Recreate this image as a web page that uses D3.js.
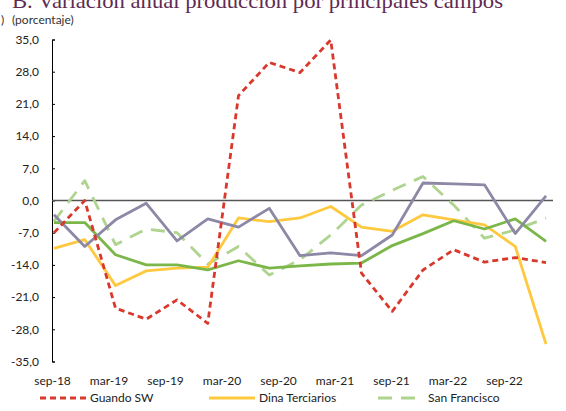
<!DOCTYPE html>
<html><head><meta charset="utf-8">
<script src="https://cdn.jsdelivr.net/npm/d3@7/dist/d3.min.js"></script>
<style>
html,body{margin:0;padding:0;background:#fff;overflow:hidden}
svg{display:block}
</style></head>
<body>
<script>
const quarters = ["sep-18","dic-18","mar-19","jun-19","sep-19","dic-19","mar-20","jun-20","sep-20","dic-20","mar-21","jun-21","sep-21","dic-21","mar-22","jun-22","sep-22"];
const axisLabels = ["sep-18","mar-19","sep-19","mar-20","sep-20","mar-21","sep-21","mar-22","sep-22"];
const yTicks = [-35,-28,-21,-14,-7,0,7,14,21,28,35];
const guandoSW = [-7.0,0.0,-23.4,-25.8,-21.6,-26.7,22.8,30.0,27.8,34.9,-15.8,-24.1,-15.1,-10.7,-13.4,-12.4,-13.5];
const dinaTerciarios = [-10.4,-8.5,-18.5,-15.3,-14.7,-14.5,-3.8,-4.6,-3.8,-1.3,-5.8,-6.7,-3.1,-4.2,-5.3,-10.0,-31.2];
const sanFrancisco = [-4.5,4.3,-9.6,-6.2,-7.0,-13.8,-10.0,-16.2,-12.9,-7.5,-1.0,2.2,5.2,-1.0,-8.2,-6.4,-3.8];
const tello = [-3.1,-10.0,-4.2,-0.6,-8.8,-4.0,-5.8,-1.7,-12.0,-11.4,-12.0,-7.5,3.8,3.6,3.4,-7.2,1.0];
const quenia = [-4.8,-4.8,-11.8,-14.0,-14.0,-15.1,-13.1,-14.7,-14.2,-13.8,-13.6,-9.8,-7.2,-4.4,-6.2,-4.0,-8.9];
const seriesNames = ["Guando SW","Dina Terciarios","San Francisco","Tello","Quenia"];

const W = 566, H = 411;
const svg = d3.select("body").append("svg").attr("width", W).attr("height", H);
const font = "Lato, 'Open Sans', sans-serif";

// Title (cut at top)
svg.append("text").attr("x", 12).attr("y", 8)
  .attr("font-family", "'Liberation Serif', 'DejaVu Serif', serif")
  .attr("font-size", 21).attr("fill", "#5e2b52")
  .attr("textLength", 491).attr("lengthAdjust", "spacingAndGlyphs")
  .text("B. Variación anual producción por principales campos");
svg.append("text").attr("x", 1).attr("y", 24)
  .attr("font-family", font).attr("font-size", 12).attr("fill", "#333").text(")");
svg.append("text").attr("x", 12).attr("y", 24)
  .attr("font-family", font).attr("font-size", 12).attr("fill", "#333").text("(porcentaje)");

const y = d3.scaleLinear().domain([-35, 35]).range([361.5, 39.5]);
const x = d3.scalePoint().domain(quarters).range([54, 546]);
const xl = d3.scalePoint().domain(axisLabels).range([52, 504]);

const loc = d3.formatLocale({decimal: ",", thousands: ".", grouping: [3], currency: ["$", ""], minus: "-"});
const fmt = loc.format(".1f");

// Y axis
const gy = svg.append("g").attr("transform", "translate(52,0)")
  .call(d3.axisLeft(y).tickValues(yTicks).tickFormat(fmt).tickSize(-3).tickPadding(13));
gy.select(".domain").attr("stroke", "#000").attr("stroke-width", 1);
gy.selectAll(".tick line").attr("stroke", "#000");
gy.selectAll(".tick text").attr("font-family", font).attr("font-size", 12).attr("fill", "#222");

// Zero line
svg.append("line").attr("x1", 52).attr("x2", 553).attr("y1", y(0)).attr("y2", y(0))
  .attr("stroke", "#555").attr("stroke-width", 1.3);

// X axis labels
const gx = svg.append("g").attr("transform", "translate(0,368)")
  .call(d3.axisBottom(xl).tickSize(0).tickPadding(8));
gx.select(".domain").remove();
gx.selectAll(".tick text").attr("font-family", font).attr("font-size", 12).attr("fill", "#222");

const series = [
  {name: seriesNames[0], values: guandoSW, color: "#d9382c", dash: "6,4", w: 2.8},
  {name: seriesNames[1], values: dinaTerciarios, color: "#ffc93f", dash: null, w: 2.8},
  {name: seriesNames[2], values: sanFrancisco, color: "#aed48f", dash: "14,9", w: 2.8},
  {name: seriesNames[3], values: tello, color: "#8c88a6", dash: null, w: 2.8},
  {name: seriesNames[4], values: quenia, color: "#7ab648", dash: null, w: 2.8}
];
const drawOrder = [2, 1, 4, 3, 0];
const line = d3.line().x((d, i) => x(quarters[i])).y(d => y(d));
drawOrder.forEach(k => {
  const s = series[k];
  svg.append("path").datum(s.values).attr("d", line)
    .attr("fill", "none").attr("stroke", s.color).attr("stroke-width", s.w)
    .attr("stroke-linejoin", "round")
    .attr("stroke-dasharray", s.dash);
});

// Legend
const legPos = [[40, 402], [209, 402], [378, 402], [40, 420], [209, 420]];
series.forEach((s, k) => {
  const [lx, ly] = legPos[k];
  svg.append("line").attr("x1", lx).attr("x2", lx + 46).attr("y1", ly - 4).attr("y2", ly - 4)
    .attr("stroke", s.color).attr("stroke-width", 2.8).attr("stroke-dasharray", s.dash);
  svg.append("text").attr("x", lx + 50).attr("y", ly).attr("font-family", font)
    .attr("font-size", 12).attr("fill", "#222").text(s.name);
});
</script>
</body></html>
